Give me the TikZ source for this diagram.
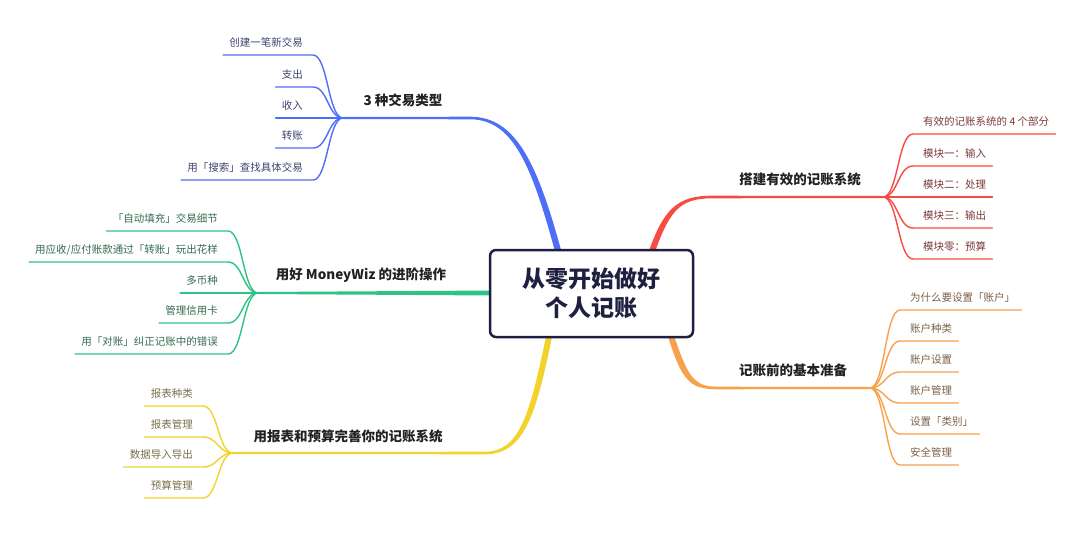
\documentclass[tikz,border=0pt]{standalone}
\usepackage{fontspec}
\setmainfont{Noto Sans CJK SC}
\definecolor{cblue}{HTML}{4D6EF6}
\definecolor{cred}{HTML}{F54B43}
\definecolor{corange}{HTML}{F8A14C}
\definecolor{cgreen}{HTML}{2EC284}
\definecolor{cyellow}{HTML}{F3D22C}
\definecolor{tblue}{HTML}{3D4470}
\definecolor{tred}{HTML}{7A3A38}
\definecolor{torange}{HTML}{7A6048}
\definecolor{tgreen}{HTML}{356B50}
\definecolor{tyellow}{HTML}{77704A}
\definecolor{tdark}{HTML}{222226}
\definecolor{cnavy}{HTML}{1E2040}
\begin{document}
\begin{tikzpicture}[x=1pt,y=-1pt,
  leaf/.style={font=\fontsize{10.5}{12}\selectfont, inner xsep=6pt, inner ysep=6pt, text height=8pt, text depth=2pt},
  lleaf/.style={leaf, anchor=south east, execute at end node={\hspace{4pt}}},
  rleaf/.style={leaf, anchor=south west, execute at begin node={\hspace{4pt}}},
  branch/.style={font=\fontsize{13.5}{16}\selectfont\bfseries, text=tdark},
  twig/.style={line width=1.4pt, line cap=round}]
\useasboundingbox (0,0) rectangle (1080,541);

% junctions
\coordinate (bJ) at (343,118);
\coordinate (rJ) at (883,197);
\coordinate (oJ) at (870,388);
\coordinate (gJ) at (258,293);
\coordinate (yJ) at (233,453);

% main tapered branches
\fill[cblue] (343,117) -- (470,116.7) .. controls (516.5,116.7) and (538,164) .. (563.2,258) -- (556.8,258) .. controls (532,166) and (513.5,119.3) .. (470,119.3) -- (343,119) -- cycle;
\fill[cred] (647.2,256) .. controls (663,209) and (677,195.7) .. (712,195.7) -- (883,196) -- (883,198) -- (712,198.3) .. controls (679,198.3) and (669,211) .. (652.8,258) -- cycle;
\fill[corange] (672.8,332) .. controls (688,378) and (694,386.7) .. (718,386.7) -- (870,387) -- (870,389) -- (718,389.3) .. controls (690,389.3) and (682,382) .. (667.2,334) -- cycle;
\fill[cgreen] (258,292) -- (495,290.5) -- (495,295.5) -- (258,294) -- cycle;
\fill[cyellow] (552.9,332.6) .. controls (536,416) and (524,454.3) .. (485,454.3) -- (233,454) -- (233,452) -- (485,451.7) .. controls (520,451.7) and (530,414) .. (547.1,331.4) -- cycle;

% root
\node[draw=cnavy, line width=2.5pt, rounded corners=6pt, fill=white, minimum width=203pt, minimum height=87pt, align=center, text=cnavy, font=\fontsize{23}{29}\selectfont\bfseries] (root) at (591.5,293.5) {从零开始做好\\个人记账};

% branch labels
\node[branch] (bL) at (403,100) {3 种交易类型};
\node[branch] (rL) at (800,179) {搭建有效的记账系统};
\node[branch] (oL) at (793,370) {记账前的基本准备};
\node[branch] (gL) at (361,275) {用好 MoneyWiz 的进阶操作};
\node[branch] (yL) at (348,436) {用报表和预算完善你的记账系统};

% blue leaves
\node[lleaf, text=tblue] (b1) at (313,55) {创建一笔新交易};
\node[lleaf, text=tblue] (b2) at (313,87) {支出};
\node[lleaf, text=tblue] (b3) at (313,118) {收入};
\node[lleaf, text=tblue] (b4) at (313,148) {转账};
\node[lleaf, text=tblue] (b5) at (313,180) {用「搜索」查找具体交易};
\foreach \n in {b1,b2,b3,b4,b5}
  \draw[twig, cblue] (bJ) .. controls +(-15,0) and +(15,0) .. (\n.south east) -- (\n.south west);

% red leaves
\node[rleaf, text=tred] (r1) at (913,134) {有效的记账系统的 4 个部分};
\node[rleaf, text=tred] (r2) at (913,166) {模块一：输入};
\node[rleaf, text=tred] (r3) at (913,197) {模块二：处理};
\node[rleaf, text=tred] (r4) at (913,228) {模块三：输出};
\node[rleaf, text=tred] (r5) at (913,259) {模块零：预算};
\foreach \n in {r1,r2,r3,r4,r5}
  \draw[twig, cred] (rJ) .. controls +(15,0) and +(-15,0) .. (\n.south west) -- (\n.south east);

% orange leaves
\node[rleaf, text=torange] (o1) at (900,310) {为什么要设置「账户」};
\node[rleaf, text=torange] (o2) at (900,341) {账户种类};
\node[rleaf, text=torange] (o3) at (900,372) {账户设置};
\node[rleaf, text=torange] (o4) at (900,403) {账户管理};
\node[rleaf, text=torange] (o5) at (900,434) {设置「类别」};
\node[rleaf, text=torange] (o6) at (900,465) {安全管理};
\foreach \n in {o1,o2,o3,o4,o5,o6}
  \draw[twig, corange] (oJ) .. controls +(15,0) and +(-15,0) .. (\n.south west) -- (\n.south east);

% green leaves
\node[lleaf, text=tgreen] (g1) at (228,231) {「自动填充」交易细节};
\node[lleaf, text=tgreen] (g2) at (228,262) {用应收/应付账款通过「转账」玩出花样};
\node[lleaf, text=tgreen] (g3) at (228,293) {多币种};
\node[lleaf, text=tgreen] (g4) at (228,323) {管理信用卡};
\node[lleaf, text=tgreen] (g5) at (228,354) {用「对账」纠正记账中的错误};
\foreach \n in {g1,g2,g3,g4,g5}
  \draw[twig, cgreen] (gJ) .. controls +(-15,0) and +(15,0) .. (\n.south east) -- (\n.south west);

% yellow leaves
\node[lleaf, text=tyellow] (y1) at (203,406) {报表种类};
\node[lleaf, text=tyellow] (y2) at (203,437) {报表管理};
\node[lleaf, text=tyellow] (y3) at (203,467) {数据导入导出};
\node[lleaf, text=tyellow] (y4) at (203,498) {预算管理};
\foreach \n in {y1,y2,y3,y4}
  \draw[twig, cyellow] (yJ) .. controls +(-15,0) and +(15,0) .. (\n.south east) -- (\n.south west);
\end{tikzpicture}
\end{document}
